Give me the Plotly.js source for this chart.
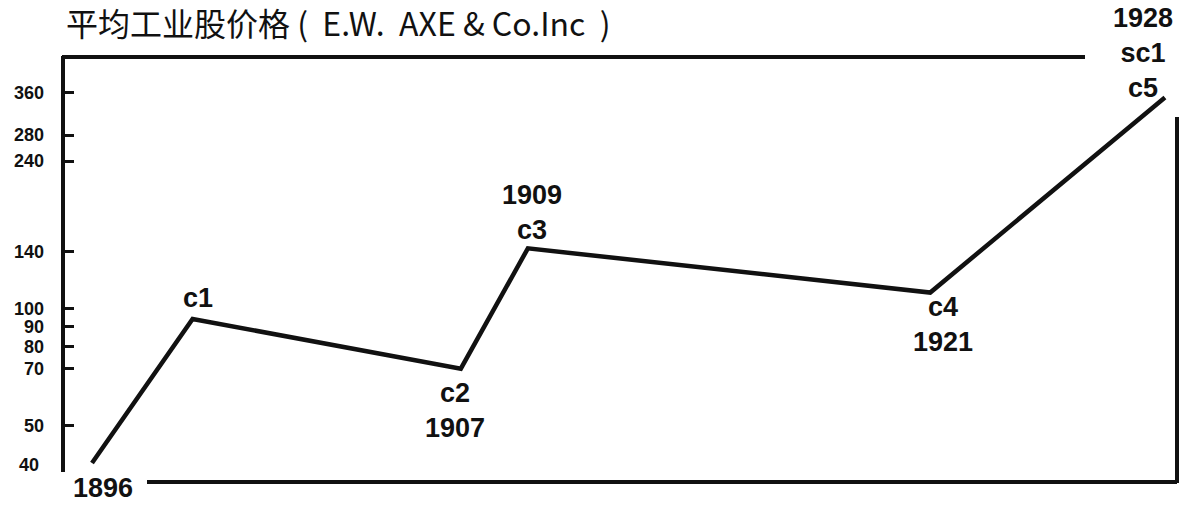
<!DOCTYPE html>
<html>
<head>
<meta charset="utf-8">
<script src="https://cdn.plot.ly/plotly-3.0.1.min.js"></script>
<style>html,body{margin:0;padding:0;background:#fff;}#chart{width:1183px;height:506px;}</style>
</head>
<body>
<div id="chart"></div>
<script>
// ---- data ----
const years = [1896, 1899, 1907, 1909, 1921, 1928];
const prices = [40, 94, 70, 143, 110, 350];
const pointLabels = ["1896", "c1", "c2<br>1907", "1909<br>c3", "c4<br>1921", "1928<br>sc1<br>c5"];
const tickValues = [50, 70, 80, 90, 100, 140, 240, 280, 360];
const tickLabels = ["50", "70", "80", "90", "100", "140", "240", "280", "360"];
const bottomTickValue = 40;
const bottomTickLabel = "40";
const titleText = "平均工业股价格\u00a0(\u00a0\u00a0E.W.\u00a0 AXE &amp; Co.Inc\u00a0\u00a0)";

// ---- layout geometry (pixels) ----
const W = 1183, H = 506;
const M = {l: 63, r: 6, t: 57, b: 24};
const PW = W - M.l - M.r, PH = H - M.t - M.b;
const px = x => (x - M.l) / PW;
const py = y => (H - M.b - y) / PH;

const labelFont = {family: "Liberation Sans Narrow, Arial Narrow, sans-serif", size: 27, color: "#111"};
const tickFont = {family: "Liberation Sans, Arial, sans-serif", size: 18, color: "#111", weight: "bold"};

// label offsets (style): [xshift, yshift]
const labelOffsets = [[11, -25], [5, 21], [-6, -42], [4, 36], [13, -32], [-22, 45]];

const annotations = pointLabels.map((t, i) => ({
  x: years[i], y: Math.log10(prices[i]), xref: "x", yref: "y",
  text: "<b>" + t + "</b>", showarrow: false,
  xanchor: "center", yanchor: "middle",
  xshift: labelOffsets[i][0], yshift: labelOffsets[i][1],
  font: labelFont, align: "center"
}));
annotations.push({
  x: 0, y: Math.log10(bottomTickValue), xref: "paper", yref: "y",
  text: "<b>" + bottomTickLabel + "</b>", showarrow: false,
  xanchor: "right", yanchor: "middle", xshift: -22, yshift: -2, font: tickFont
});

const lineStyle = {color: "#111", width: 4};
const shapes = [
  {type: "line", xref: "paper", yref: "paper", x0: px(62), x1: px(1085), y0: py(57), y1: py(57), line: lineStyle},
  {type: "line", xref: "paper", yref: "paper", x0: px(63), x1: px(63), y0: py(56), y1: py(472), line: lineStyle},
  {type: "line", xref: "paper", yref: "paper", x0: px(147), x1: px(1177), y0: py(482), y1: py(482), line: lineStyle},
  {type: "line", xref: "paper", yref: "paper", x0: px(1177), x1: px(1177), y0: py(117), y1: py(483), line: lineStyle}
];

const trace = {
  x: years, y: prices, type: "scatter", mode: "lines",
  line: {color: "#111", width: 4.5, shape: "linear"},
  hoverinfo: "skip"
};

const layout = {
  width: W, height: H,
  margin: M,
  paper_bgcolor: "#fff", plot_bgcolor: "#fff",
  showlegend: false,
  title: {
    text: titleText,
    x: 66 / W, xref: "container", xanchor: "left",
    y: 1 - 25 / H, yref: "container", yanchor: "middle",
    font: {family: "Noto Sans CJK SC, sans-serif", size: 32, color: "#111"}
  },
  xaxis: {
    range: [1895.135, 1928.36],
    showticklabels: false, ticks: "", showgrid: false, zeroline: false, showline: false
  },
  yaxis: {
    type: "log", range: [1.5531, 2.6485],
    tickmode: "array", tickvals: tickValues, ticktext: tickLabels,
    ticks: "inside", ticklen: 11, tickwidth: 3, tickcolor: "#111",
    tickfont: tickFont, ticklabelstandoff: 18,
    showgrid: false, zeroline: false, showline: false
  },
  shapes: shapes,
  annotations: annotations
};

Plotly.newPlot("chart", [trace], layout, {displayModeBar: false, staticPlot: true});
</script>
</body>
</html>
